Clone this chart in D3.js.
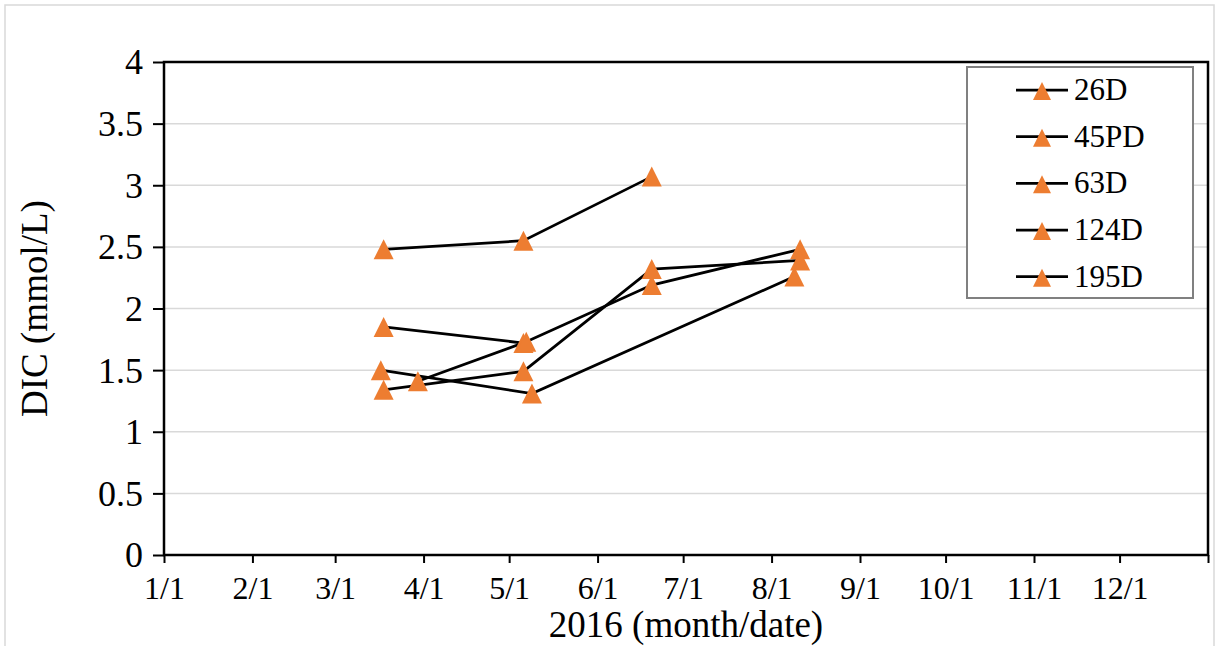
<!DOCTYPE html>
<html>
<head>
<meta charset="utf-8">
<script src="https://cdn.jsdelivr.net/npm/d3@7"></script>
<style>
  body { margin: 0; background: #fff; }
  text { font-family: "Liberation Serif", "Times New Roman", serif; fill: #000; }
</style>
</head>
<body>
<div id="chart"></div>
<script>
var svgW = 1216,
    svgH = 646;

// series names (legend order)
var seriesNames = ['26D', '45PD', '63D', '124D', '195D'];

// sampling dates per series
var seriesDates = [
    ['2016-03-18', '2016-05-06', '2016-06-20'],
    ['2016-03-18', '2016-05-06'],
    ['2016-03-30', '2016-05-07', '2016-06-20', '2016-08-11'],
    ['2016-03-17', '2016-05-09', '2016-08-09'],
    ['2016-03-18', '2016-05-06', '2016-06-20', '2016-08-11']
];

// DIC values (mmol/L)
var seriesValues = [
    [2.48, 2.55, 3.07],
    [1.85, 1.72],
    [1.41, 1.73, 2.19, 2.48],
    [1.50, 1.31, 2.26],
    [1.34, 1.49, 2.32, 2.39]
];

var yTicks = [0, 0.5, 1, 1.5, 2, 2.5, 3, 3.5, 4];
var xTickLabels = ['1/1', '2/1', '3/1', '4/1', '5/1', '6/1', '7/1', '8/1', '9/1', '10/1', '11/1', '12/1'];

var parseDate = d3.timeParse('%Y-%m-%d');

var plot = {x1: 164, x2: 1208, y1: 62, y2: 555};

var x = d3.scaleTime()
    .domain([new Date(2016, 0, 1), new Date(2017, 0, 1)])
    .range([plot.x1, plot.x2]);

var y = d3.scaleLinear()
    .domain([0, 4])
    .range([plot.y2, plot.y1]);

var svg = d3.select('#chart').append('svg')
    .attr('width', svgW)
    .attr('height', svgH)
    .style('display', 'block');

// outer chart frame
svg.append('rect')
    .attr('x', 5).attr('y', 5)
    .attr('width', 1209).attr('height', 660)
    .attr('fill', '#fff')
    .attr('stroke', '#d9d9d9')
    .attr('stroke-width', 1.5);

// gridlines
svg.append('g').selectAll('line')
    .data(yTicks.filter(function (d) { return d > 0 && d < 4; }))
    .enter().append('line')
    .attr('x1', plot.x1).attr('x2', plot.x2)
    .attr('y1', function (d) { return y(d); })
    .attr('y2', function (d) { return y(d); })
    .attr('stroke', '#d9d9d9')
    .attr('stroke-width', 1.5);

// y axis
var yAxis = d3.axisLeft(y)
    .tickValues(yTicks)
    .tickSize(11)
    .tickPadding(10)
    .tickFormat(function (d) { return d3.format('')(d); });

var gy = svg.append('g')
    .attr('transform', 'translate(' + plot.x1 + ',0)')
    .call(yAxis);
gy.select('.domain').remove();
gy.selectAll('line').attr('stroke', '#000').attr('stroke-width', 2);
gy.selectAll('text').style('font-size', '36px').attr('dy', '0.33em');

// x axis: ticks at the first of each month
var monthStarts = d3.timeMonths(new Date(2016, 0, 1), new Date(2017, 0, 2));
var xAxis = d3.axisBottom(x)
    .tickValues(monthStarts)
    .tickSize(8)
    .tickPadding(13)
    .tickFormat(function (d, i) { return xTickLabels[i] || ''; });

var gx = svg.append('g')
    .attr('transform', 'translate(0,' + plot.y2 + ')')
    .call(xAxis);
gx.select('.domain').remove();
gx.selectAll('line').attr('stroke', '#000').attr('stroke-width', 2);
gx.selectAll('text').style('font-size', '32px');

// plot area border
svg.append('rect')
    .attr('x', plot.x1).attr('y', plot.y1)
    .attr('width', plot.x2 - plot.x1).attr('height', plot.y2 - plot.y1)
    .attr('fill', 'none')
    .attr('stroke', '#000')
    .attr('stroke-width', 2.5);

// axis titles
svg.append('text')
    .attr('x', (plot.x1 + plot.x2) / 2)
    .attr('y', 637)
    .attr('text-anchor', 'middle')
    .style('font-size', '37px')
    .text('2016 (month/date)');

svg.append('text')
    .attr('transform', 'translate(47,' + ((plot.y1 + plot.y2) / 2) + ') rotate(-90)')
    .attr('text-anchor', 'middle')
    .style('font-size', '37px')
    .text('DIC (mmol/L)');

// triangle marker
var tri = 'M0,-10L10,10L-10,10Z';

var line = d3.line()
    .x(function (d) { return x(d.date); })
    .y(function (d) { return y(d.value); });

var data = seriesNames.map(function (name, i) {
    return {
        name: name,
        points: seriesDates[i].map(function (s, j) {
            return {date: parseDate(s), value: seriesValues[i][j]};
        })
    };
});

var gSeries = svg.append('g');

gSeries.selectAll('path.line')
    .data(data).enter().append('path')
    .attr('class', 'line')
    .attr('d', function (d) { return line(d.points); })
    .attr('fill', 'none')
    .attr('stroke', '#000')
    .attr('stroke-width', 2.75);

data.forEach(function (s) {
    gSeries.selectAll(null)
        .data(s.points).enter().append('path')
        .attr('d', tri)
        .attr('transform', function (d) { return 'translate(' + x(d.date) + ',' + y(d.value) + ')'; })
        .attr('fill', '#ed7d31');
});

// legend
var leg = svg.append('g');
leg.append('rect')
    .attr('x', 967).attr('y', 67)
    .attr('width', 226).attr('height', 231)
    .attr('fill', '#fff')
    .attr('stroke', '#808080')
    .attr('stroke-width', 2);

var item = leg.selectAll('g.item')
    .data(seriesNames).enter().append('g')
    .attr('class', 'item')
    .attr('transform', function (d, i) { return 'translate(0,' + (90 + i * 46.67) + ')'; });

item.append('line')
    .attr('x1', 1016).attr('x2', 1068)
    .attr('stroke', '#000')
    .attr('stroke-width', 2.75);

item.append('path')
    .attr('d', tri)
    .attr('transform', 'translate(1042,1) scale(0.9)')
    .attr('fill', '#ed7d31');

item.append('text')
    .attr('x', 1074)
    .attr('y', 10)
    .style('font-size', '31px')
    .text(function (d) { return d; });
</script>
</body>
</html>
